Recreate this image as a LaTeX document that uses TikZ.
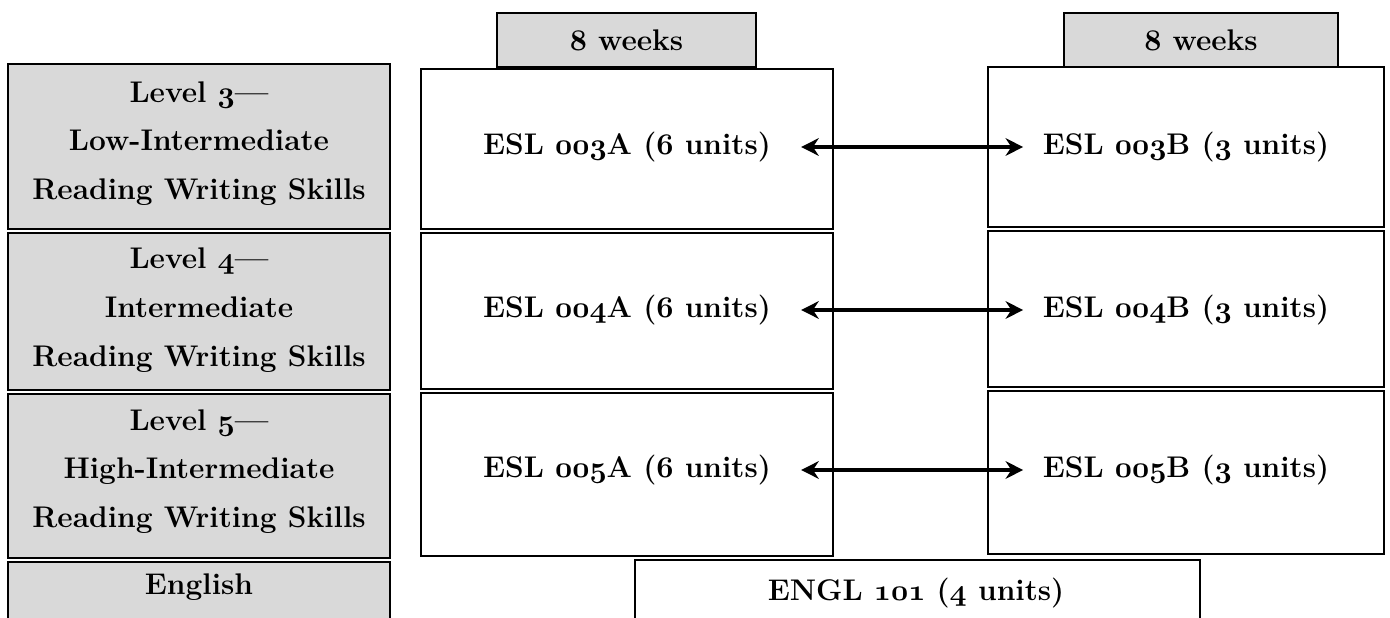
\documentclass[tikz,border=0pt]{standalone}
\usepackage{fix-cm}
\usepackage{xcolor}
\usepackage{tikz}
\usetikzlibrary{positioning,arrows.meta}

% bold old-style figures
\newcommand{\osnum}[1]{{\usefont{OML}{cmm}{b}{it}#1}}

\definecolor{cellgray}{HTML}{D9D9D9}
\tikzset{
  graybox/.style={draw=black, line width=1.6pt, fill=cellgray},
  whitebox/.style={draw=black, line width=1.6pt, fill=white},
  lbl/.style={font=\fontsize{17}{27.8}\selectfont\bfseries, align=center, inner sep=0pt},
  link/.style={{Stealth[length=10pt,width=10pt]}-{Stealth[length=10pt,width=10pt]}, line width=2.3pt}
}

\begin{document}
\begin{tikzpicture}[x=0.02cm, y=-0.02cm]
\useasboundingbox (0,0) rectangle (1390,618);
\clip (0,0) rectangle (1390,618);

% Week headers
\draw[graybox] (497,13) rectangle (756,67);
\draw[graybox] (1064,13) rectangle (1338,67);
\node[lbl] (wk1) at (626.5,40) {\osnum{8} weeks};
\node[lbl] (wk2) at (1201,40) {\osnum{8} weeks};

% Level column
\draw[graybox] (8,64) rectangle (390,229);
\draw[graybox] (8,233) rectangle (390,390);
\draw[graybox] (8,394) rectangle (390,558);
\draw[graybox] (8,562) rectangle (390,680);
\node[lbl] (lv3) at (199,143.5) {Level \osnum{3}---\\Low-Intermediate\\Reading Writing Skills};
\node[lbl] (lv4) at (199,310) {Level \osnum{4}---\\Intermediate\\Reading Writing Skills};
\node[lbl] (lv5) at (199,471.5) {Level \osnum{5}---\\High-Intermediate\\Reading Writing Skills};
\node[lbl] (eng) at (199,587) {English};

% Course boxes and links
\foreach \n/\ytop/\ybot/\ty in {3/69/229/147, 4/233/389/310, 5/393/556/470} {
  \draw[whitebox] (421,\ytop) rectangle (833,\ybot);
  \draw[whitebox] (988,\ytop-2) rectangle (1384,\ybot-2);
  \node[lbl] (a\n) at (627,\ty) {ESL \osnum{00\n}A (\osnum{6} units)};
  \node[lbl] (b\n) at (1186,\ty) {ESL \osnum{00\n}B (\osnum{3} units)};
  \draw[link, shorten <=17pt, shorten >=11pt] (a\n) -- (b\n);
}

% English course
\draw[whitebox] (635,560) rectangle (1200,680);
\node[lbl] (engl) at (916,593) {ENGL \osnum{101} (\osnum{4} units)};
\end{tikzpicture}
\end{document}
